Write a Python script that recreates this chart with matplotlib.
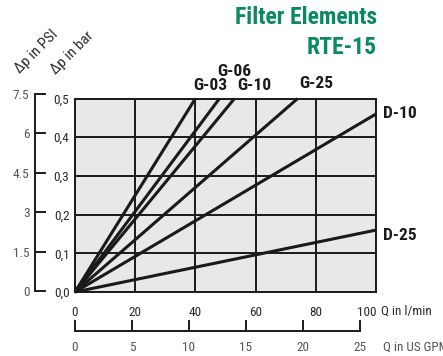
import matplotlib.pyplot as plt
import numpy as np

plt.rcParams['font.family'] = ['Roboto Condensed', 'DejaVu Sans']

# flow in l/min where each curve reaches 0.5 bar, or value at 100 l/min
curve_names = ["G-03", "G-06", "G-10", "G-25", "D-10", "D-25"]
q_end = [40, 48, 53, 74, 100, 100]
dp_end = [0.5, 0.5, 0.5, 0.5, 0.46, 0.16]

bar_ticks = [0.0, 0.1, 0.2, 0.3, 0.4, 0.5]
bar_labels = ["0,0", "0,1", "0,2", "0,3", "0,4", "0,5"]
psi_ticks = [0, 1.5, 3, 4.5, 6, 7.5]
psi_labels = ["0", "1.5", "3", "4.5", "6", "7.5"]
q_ticks = [0, 20, 40, 60, 80, 100]
gpm_ticks = [0, 5, 10, 15, 20, 25]
L_PER_GAL = 3.785

W, H = 443, 356
fig = plt.figure(figsize=(W / 100, H / 100), dpi=100)

left, right, bot, top = 75, 376, 292, 98.5
rect = [left / W, 1 - bot / H, (right - left) / W, (bot - top) / H]
ax = fig.add_axes(rect)
ax.set_facecolor("#e9e7e9")
ax.set_xlim(0, 100)
ax.set_ylim(0, 0.5)
ax.set_xticks(q_ticks)
ax.set_yticks(bar_ticks)
ax.set_yticklabels(bar_labels)
ax.tick_params(length=0, labelsize=9.5, colors="#2a2a2a")
ax.tick_params(axis="x", pad=10)
ax.tick_params(axis="y", pad=4)
ax.get_xticklabels()[-1].set_ha("right")
ax.grid(True, color="#1a1a1a", lw=1.4)
for s in ax.spines.values():
    s.set_linewidth(1.4)
    s.set_color("#1a1a1a")

for name, q, dp in zip(curve_names, q_end, dp_end):
    ax.plot([0, q], [0, dp], color="#1a1a1a", lw=2.2, solid_capstyle="butt", clip_on=False)

lbl = dict(fontsize=12.5, fontweight="bold", color="#1a1a1a", transform=fig.transFigure)
def ft(x, y, s, **kw):
    d = dict(lbl)
    d.update(kw)
    fig.text(x / W, 1 - y / H, s, **d)

ft(210, 86, "G-03", ha="center", va="center")
ft(234, 71, "G-06", ha="center", va="center")
ft(254, 86, "G-10", ha="center", va="center")
ft(316, 84, "G-25", ha="center", va="center")
ft(383, 114, "D-10", ha="left", va="center")
ft(383, 236, "D-25", ha="left", va="center")

ft(377, 18, "Filter Elements", ha="right", va="center", fontsize=17, color="#0a8a64")
ft(377, 47, "RTE-15", ha="right", va="center", fontsize=17, color="#0a8a64")

ft(36, 52, "\u0394p in PSI", ha="center", va="center", rotation=45,
   fontsize=11, fontweight="normal", color="#2a2a2a")
ft(72, 53, "\u0394p in bar", ha="center", va="center", rotation=45,
   fontsize=11, fontweight="normal", color="#2a2a2a")
ft(381, 311, "Q in l/min", ha="left", va="center", fontsize=9.5,
   fontweight="normal", color="#2a2a2a")
ft(383, 347, "Q in US GPM", ha="left", va="center", fontsize=9.5,
   fontweight="normal", color="#555555")

# PSI axis on the far left
pt, pb = 94, 291
axp = fig.add_axes([35 / W, 1 - pb / H, 0.01, (pb - pt) / H])
axp.set_ylim(0, 7.5)
axp.set_yticks(psi_ticks)
axp.set_yticklabels(psi_labels)
axp.set_xticks([])
axp.patch.set_visible(False)
for k in ["top", "right", "bottom"]:
    axp.spines[k].set_visible(False)
axp.spines["left"].set_linewidth(1.4)
axp.spines["left"].set_color("#1a1a1a")
axp.tick_params(axis="y", direction="in", length=8, width=1.4, color="#1a1a1a",
                labelsize=9.5, labelcolor="#555555", pad=4)

# US GPM axis below
gy = 331
axg = fig.add_axes([rect[0], 1 - gy / H, rect[2], 0.01])
axg.set_xlim(0, 100)
axg.set_xticks([g * L_PER_GAL for g in gpm_ticks])
axg.set_xticklabels([str(g) for g in gpm_ticks])
axg.set_yticks([])
axg.patch.set_visible(False)
for k in ["top", "right", "left"]:
    axg.spines[k].set_visible(False)
axg.spines["bottom"].set_bounds(0, 25 * L_PER_GAL)
axg.spines["bottom"].set_linewidth(1.4)
axg.spines["bottom"].set_color("#1a1a1a")
axg.tick_params(axis="x", direction="in", length=8, width=1.4, color="#1a1a1a",
                labelsize=9.5, labelcolor="#555555", pad=7)

fig.savefig("out.png", dpi=100)
